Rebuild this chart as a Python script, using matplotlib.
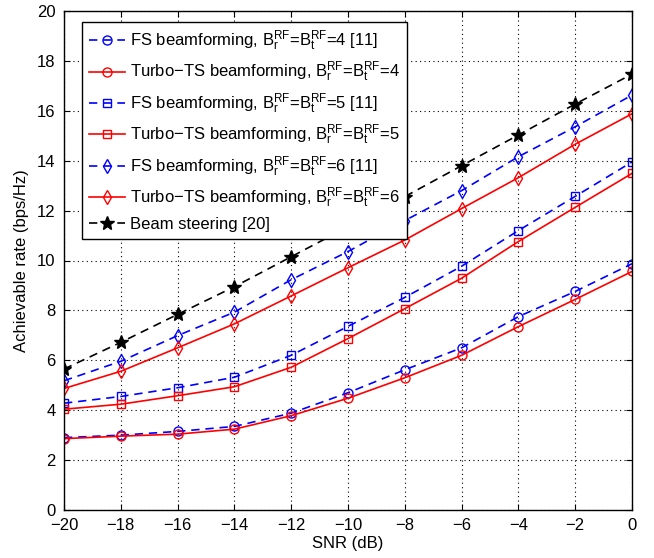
import numpy as np
import matplotlib
matplotlib.use('Agg')
import matplotlib.pyplot as plt

plt.rcParams['font.family'] = ['Liberation Sans', 'DejaVu Sans']
plt.rcParams['mathtext.fontset'] = 'custom'
plt.rcParams['mathtext.rm'] = 'Liberation Sans'
plt.rcParams['mathtext.it'] = 'Liberation Sans'
plt.rcParams['mathtext.default'] = 'regular'

#  SNR values (dB)
snr = np.arange(-20, 1, 2)

#  Achievable rates
fs4 = [2.9, 3.0, 3.15, 3.35, 3.88, 4.7, 5.62, 6.5, 7.75, 8.76, 9.87]
turbo4 = [2.86, 2.96, 3.04, 3.24, 3.78, 4.48, 5.3, 6.2, 7.35, 8.44, 9.56]
fs5 = [4.28, 4.55, 4.9, 5.32, 6.2, 7.36, 8.52, 9.77, 11.2, 12.57, 13.95]
turbo5 = [4.04, 4.24, 4.58, 4.94, 5.72, 6.87, 8.07, 9.29, 10.76, 12.13, 13.49]
fs6 = [5.18, 5.96, 6.99, 7.93, 9.23, 10.36, 11.6, 12.8, 14.16, 15.36, 16.63]
turbo6 = [4.87, 5.56, 6.5, 7.46, 8.58, 9.71, 10.82, 12.08, 13.32, 14.66, 15.88]
beam = [5.65, 6.72, 7.84, 8.95, 10.15, 11.35, 12.56, 13.8, 15.03, 16.27, 17.47]

xticks = np.arange(-20, 1, 2)
yticks = np.arange(0, 21, 2)

fig = plt.figure(figsize=(6.54, 5.58), dpi=100)
ax = fig.add_axes([64/654, 48/558, 568/654, 499/558])

lbl = r'$B_r^{RF}$=$B_t^{RF}$'
ax.plot(snr, fs4, color='#0000ff', ls='--', marker='o', mfc='none', ms=6.5, lw=1.2,
        dashes=(5, 3.5), label='FS beamforming, ' + lbl + '=4 [11]')
ax.plot(snr, turbo4, color='#ff0000', ls='-', marker='o', mfc='none', ms=6.5, lw=1.2,
        label='Turbo\u2212TS beamforming, ' + lbl + '=4')
ax.plot(snr, fs5, color='#0000ff', ls='--', marker='s', mfc='none', ms=5.5, lw=1.2,
        dashes=(5, 3.5), label='FS beamforming, ' + lbl + '=5 [11]')
ax.plot(snr, turbo5, color='#ff0000', ls='-', marker='s', mfc='none', ms=5.5, lw=1.2,
        label='Turbo\u2212TS beamforming, ' + lbl + '=5')
ax.plot(snr, fs6, color='#0000ff', ls='--', marker='d', mfc='none', ms=7.5, lw=1.2,
        dashes=(5, 3.5), label='FS beamforming, ' + lbl + '=6 [11]')
ax.plot(snr, turbo6, color='#ff0000', ls='-', marker='d', mfc='none', ms=7.5, lw=1.2,
        label='Turbo\u2212TS beamforming, ' + lbl + '=6')
ax.plot(snr, beam, color='k', ls='--', marker='*', ms=10, lw=1.2,
        dashes=(5, 3.5), label='Beam steering [20]')

ax.set_xlim(-20, 0)
ax.set_ylim(0, 20)
ax.set_xticks(xticks)
ax.set_xticklabels([str(v).replace('-', '\u2212') for v in xticks])
ax.set_yticks(yticks)
ax.tick_params(direction='in', labelsize=12, top=True, right=True, length=4, pad=6)
ax.grid(True, color='k', ls=(0, (1, 3)), lw=0.8)
for s in ax.spines.values():
    s.set_linewidth(1.0)
ax.set_xlabel('SNR (dB)', fontsize=12, labelpad=2)
ax.set_ylabel('Achievable rate (bps/Hz)', fontsize=12, labelpad=6)

leg = ax.legend(loc='upper left', bbox_to_anchor=(18/568, 1 - 11/499), borderaxespad=0,
                fontsize=12, fancybox=False, framealpha=1,
                edgecolor='k', handlelength=2.2, labelspacing=0.42,
                handletextpad=0.3)
leg.get_frame().set_linewidth(1.0)

fig.savefig('out.png', dpi=100)
